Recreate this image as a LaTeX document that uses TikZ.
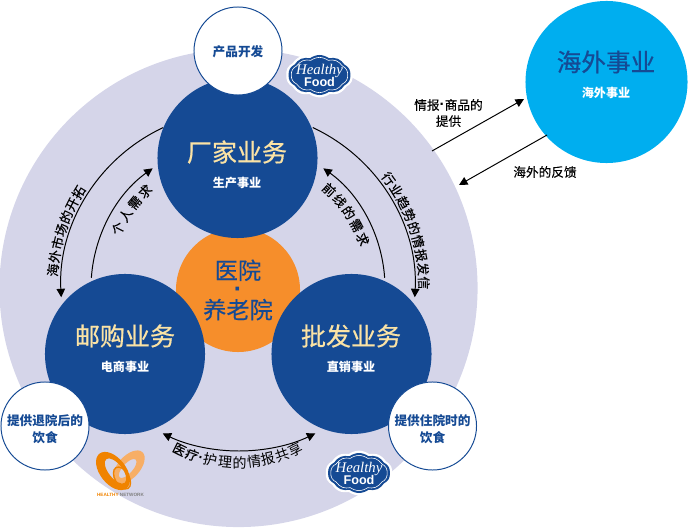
\documentclass[tikz,border=0pt]{standalone}
\usepackage{fontspec}
\setmainfont{Noto Sans CJK SC}
\newfontfamily\medfont[FakeBold=.3]{Noto Sans CJK SC}
\newfontfamily\titlefont[FakeBold=.6]{Noto Sans CJK SC}
\newfontfamily\logoserif{Liberation Serif}
\newfontfamily\logosans{Liberation Sans}
\usetikzlibrary{arrows.meta,decorations.text,shapes.symbols}

\definecolor{ringlav}{HTML}{D5D5E9}
\definecolor{mainblue}{HTML}{154A94}
\definecolor{midorange}{HTML}{F68E2B}
\definecolor{seacyan}{HTML}{00AEEF}
\definecolor{titlegold}{HTML}{FBE3A5}
\definecolor{netdark}{HTML}{F08300}
\definecolor{netlight}{HTML}{F7AE65}

\newcommand{\curvefont}{\medfont\fontsize{9.2pt}{10pt}\selectfont}
\newcommand{\smalldot}{{\logosans\bfseries\fontsize{11pt}{11pt}\selectfont ·}}

\tikzset{
  bizcircle/.style={circle, fill=mainblue, minimum size=4cm, inner sep=0pt},
  whitecircle/.style={circle, fill=white, draw=mainblue, line width=.7pt, minimum size=2.2cm, inner sep=0pt},
  whitetext/.style={align=center, text=mainblue, font=\fontsize{9pt}{12.4pt}\selectfont\bfseries},
  bigtitle/.style={text=titlegold, font=\titlefont\fontsize{17.8pt}{20pt}\selectfont},
  subtitle/.style={text=white, font=\fontsize{8.6pt}{10pt}\selectfont\bfseries},
  flowlabel/.style={align=center, font=\medfont\fontsize{9pt}{11.5pt}\selectfont},
  flowarrow/.style={black, line width=.7pt, -{Triangle[length=6pt,width=6pt]}},
  curvetext/.style={decorate, decoration={text along path, text align={fit to path}, text={|\curvefont|#1}}},
  logocloud/.style={cloud, cloud puffs=10, cloud puff arc=75, aspect=1.6, inner sep=0pt, anchor=center},
  pics/foodlogo/.style={code={
    \node[logocloud, fill=white, minimum width=1.68cm, minimum height=1.12cm] (-halo) at (0,0) {};
    \node[logocloud, fill=mainblue, minimum width=1.56cm, minimum height=1cm] (-base) at (0,0) {};
    \node[logocloud, draw=white, line width=.4pt, minimum width=1.42cm, minimum height=.88cm] (-line) at (0,0) {};
    \node[text=white, font=\logoserif\itshape\fontsize{10.5pt}{11pt}\selectfont] (-top) at (0,4) {Healthy};
    \node[text=white, font=\logosans\bfseries\fontsize{9pt}{10pt}\selectfont] (-low) at (0,-7) {Food};
  }}
}

\begin{document}
\begin{tikzpicture}[x=.025cm,y=.025cm]
  \useasboundingbox (0,0) rectangle (688,527);
  % Background ring and the four centre circles
  \node[circle, fill=ringlav, minimum size=11.95cm, inner sep=0pt] (ring) at (238.5,239) {};
  \node[circle, fill=midorange, minimum size=3.1cm, inner sep=0pt, text=mainblue, align=center,
    font=\medfont\fontsize{16.5pt}{13pt}\selectfont] (care) at (238,237) {医院\\{\logosans\bfseries\fontsize{18pt}{13pt}\selectfont ·}\\养老院};
  \node[bizcircle] (maker) at (237.5,369) {};
  \node[bizcircle] (mail) at (125,173) {};
  \node[bizcircle] (whole) at (351.5,173) {};
  \node[bigtitle] (makertitle) at (237,375) {厂家业务};
  \node[subtitle] (makersub) at (237,344) {生产事业};
  \node[bigtitle] (mailtitle) at (125,191) {邮购业务};
  \node[subtitle] (mailsub) at (125,160) {电商事业};
  \node[bigtitle] (wholetitle) at (351,191) {批发业务};
  \node[subtitle] (wholesub) at (351,160) {直销事业};

  % Small white circles
  \node[whitecircle] (develop) at (238,476) {};
  \node[whitecircle] (leave) at (45,101) {};
  \node[whitecircle] (stay) at (432.5,101) {};
  \node[whitetext] (developtext) at (238,475) {产品开发};
  \node[whitetext] (leavetext) at (45,98) {提供退院后的\\饮食};
  \node[whitetext] (staytext) at (432.5,98) {提供住院时的\\饮食};

  % Overseas circle
  \node[circle, fill=seacyan, minimum size=4.05cm, inner sep=0pt] (sea) at (606.5,445) {};
  \node[text=mainblue, font=\titlefont\fontsize{17.5pt}{20pt}\selectfont] (seatitle) at (606,465) {海外事业};
  \node[subtitle] (seasub) at (606,434) {海外事业};

  % Logos
  \pic (foodtop) at (319.5,452) {foodlogo};
  \pic (foodlow) at (359,54) {foodlogo};
  \begin{scope}[even odd rule]
    \fill[netlight, rotate around={48:(129,60)}] (129,60) ellipse (20 and 11) (127,60) ellipse (12 and 5);
    \fill[netdark, rotate around={-52:(113,56)}] (113,56) ellipse (22 and 13) (114.5,58) ellipse (15 and 7);
    \draw[netdark, line width=1pt, rotate around={-60:(122,49)}] (122,49) ellipse (12 and 7);
  \end{scope}
  \node[inner sep=0pt, font=\logosans\bfseries\fontsize{3.3pt}{4pt}\selectfont] (netname) at (120.5,32)
    {\textcolor{netdark}{HEALTHY} \textcolor{gray}{NETWORK}};

  % Curved arrows around the ring centre
  \coordinate (hub) at (238,239);
  \coordinate (lowhub) at (239,250);
  \coordinate (lowtext) at (238,196);
  \draw[flowarrow] (hub) ++(115:177) arc (115:183:177);
  \draw[flowarrow] (hub) ++(65:177) arc (65:-3:177);
  \draw[flowarrow] (hub) ++(176:147) arc (176:125.5:147);
  \draw[flowarrow] (hub) ++(4:147) arc (4:54.5:147);
  \draw[flowarrow] (lowhub) ++(-90:174) arc (-90:-116:174);
  \draw[flowarrow] (lowhub) ++(-90:174) arc (-90:-64:174);

  % Text set along the arcs
  \path[curvetext={海外市场的开拓}] (hub) ++(176.5:181) arc (176.5:147:181);
  \path[curvetext={个人需求}] (hub) ++(156.5:129) arc (156.5:131:129);
  \path[curvetext={行业趋势的情报发信}] (hub) ++(38:181) arc (38:-0.5:181);
  \path[curvetext={前线的需求}] (hub) ++(50:129) arc (50:18.5:129);
  \path[curvetext={医疗|\logosans\bfseries|·||护理的情报共享}] (lowtext) ++(-119:137) arc (-119:-61:137);

  % Overseas arrows and their labels
  \coordinate (outstart) at (432,376);
  \coordinate (outend) at (524,428);
  \coordinate (backstart) at (547,392);
  \coordinate (backend) at (459,342);
  \draw[flowarrow] (outstart) -- (outend);
  \draw[flowarrow] (backstart) -- (backend);
  \node[flowlabel] (givelabel) at (448.5,414) {情报\smalldot 商品的\\提供};
  \node[flowlabel] (backlabel) at (545,355) {海外的反馈};
\end{tikzpicture}
\end{document}
